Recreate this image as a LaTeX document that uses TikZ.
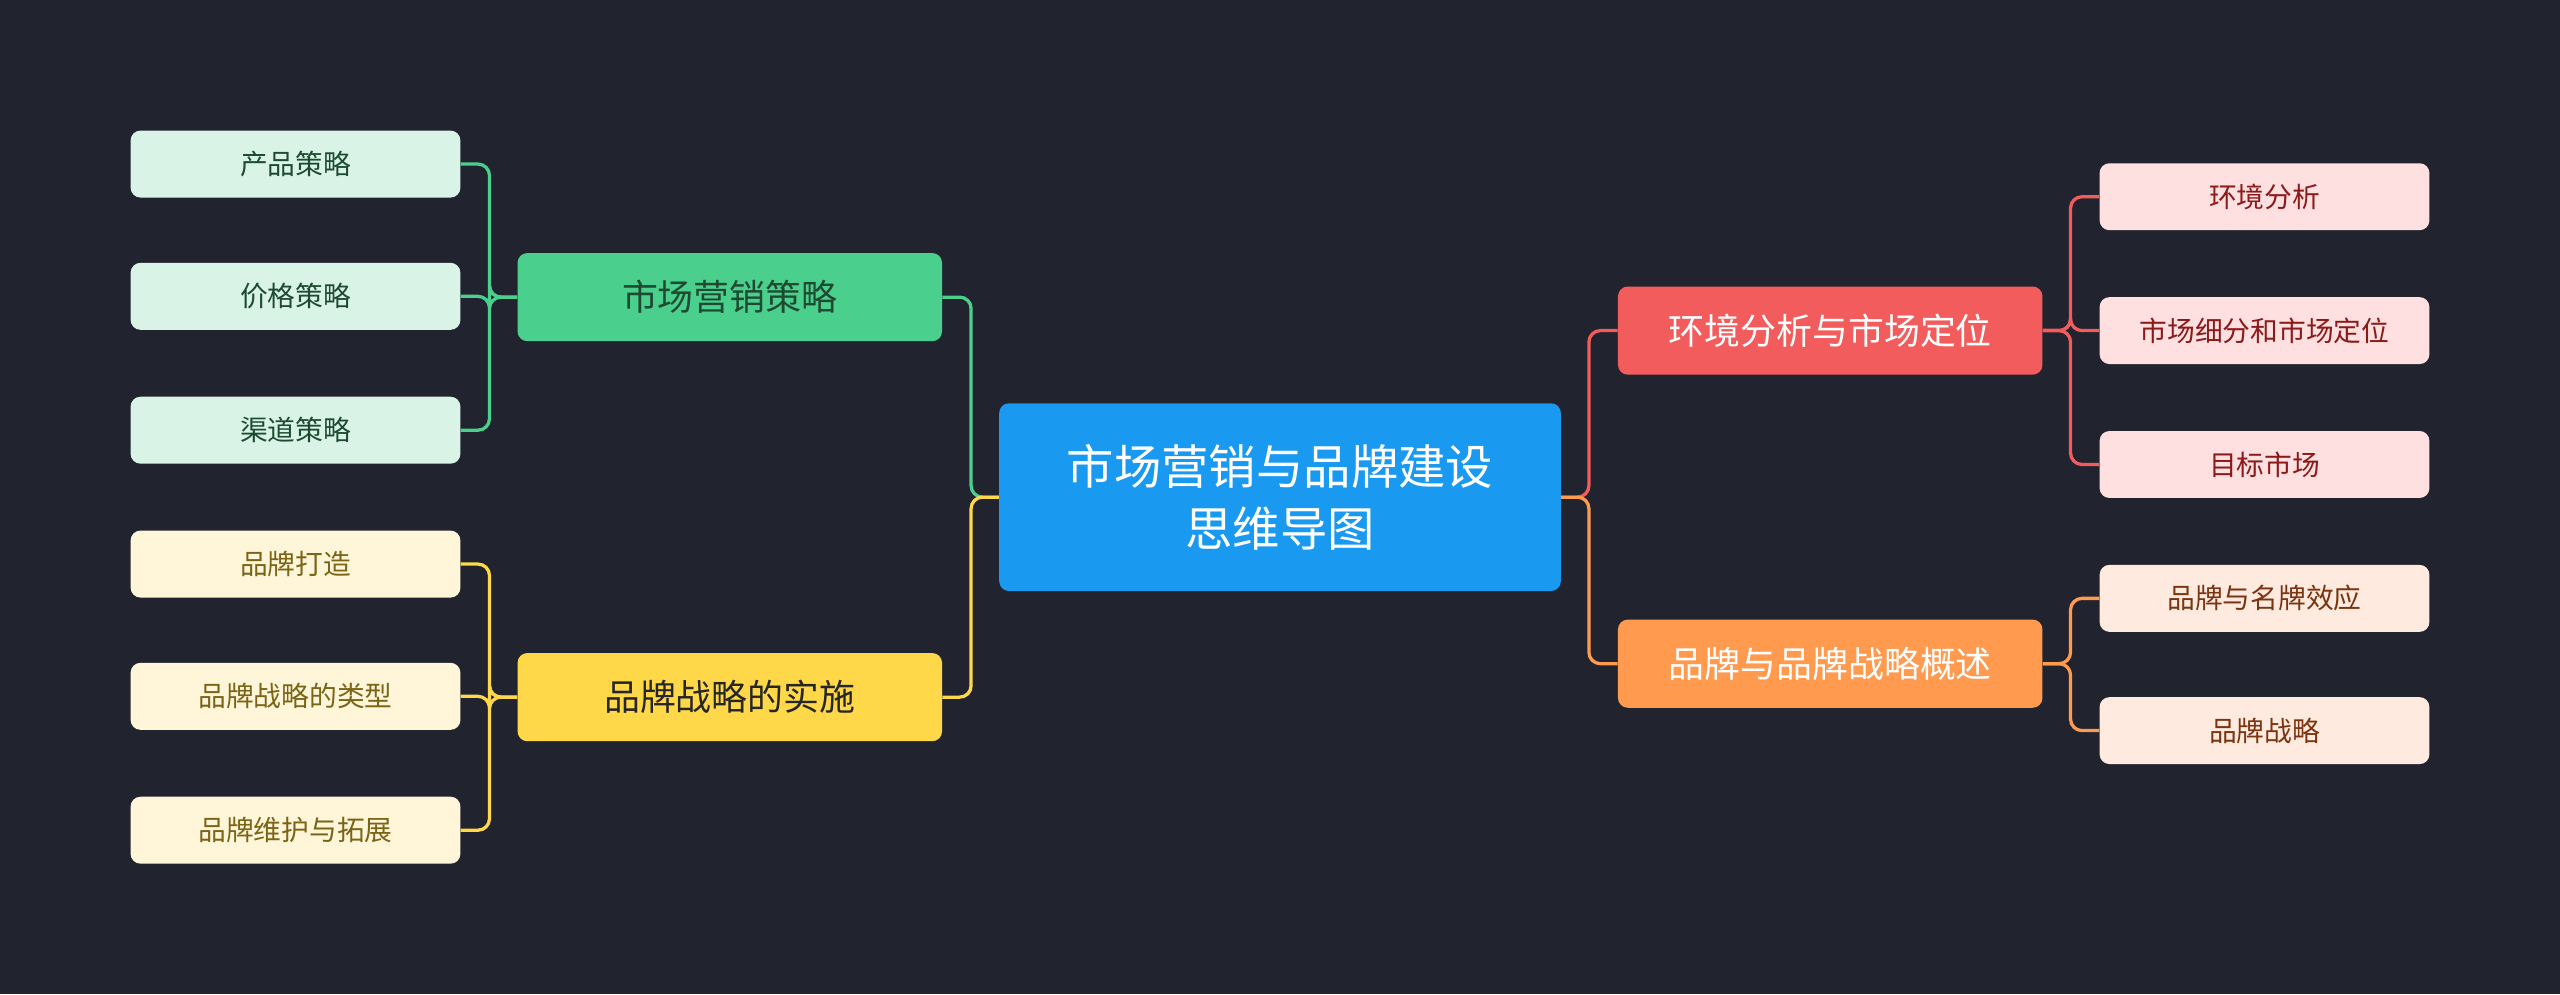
\documentclass[tikz,border=0pt]{standalone}
\usepackage{fontspec}
\setmainfont{Noto Sans CJK SC}
\usetikzlibrary{positioning}
\definecolor{bgc}{HTML}{21232F}
\definecolor{rootc}{HTML}{1A99F0}
\definecolor{grc}{HTML}{4ACF8C}
\definecolor{grl}{HTML}{D9F4E6}
\definecolor{grt}{HTML}{1E4A32}
\definecolor{yec}{HTML}{FFD84A}
\definecolor{yel}{HTML}{FFF6D9}
\definecolor{yet}{HTML}{7A6415}
\definecolor{rec}{HTML}{F25C5C}
\definecolor{rel}{HTML}{FFE0E0}
\definecolor{ret}{HTML}{8B1A1A}
\definecolor{orc}{HTML}{FF9A4F}
\definecolor{orl}{HTML}{FFEADF}
\definecolor{ort}{HTML}{7A3410}
\tikzset{
  rootbox/.style={rectangle, rounded corners=6pt, fill=rootc, text=white,
    minimum width=344pt, minimum height=115pt, align=center,
    font=\fontsize{29}{38}\selectfont},
  branchbox/.style={rectangle, rounded corners=6pt, minimum width=260pt,
    minimum height=54pt, font=\fontsize{22}{26}\selectfont},
  leafbox/.style={rectangle, rounded corners=6pt, minimum width=202pt,
    minimum height=41pt, font=\fontsize{17}{20}\selectfont},
  link/.style={line width=2pt, rounded corners=7pt}
}
\begin{document}
\begin{tikzpicture}[x=1pt,y=-1pt]
  \fill[bgc] (0,0) rectangle (1568,609);
  \useasboundingbox (0,0) rectangle (1568,609);
  % root
  \node[rootbox] (root) at (784,304.5) {市场营销与品牌建设\\思维导图};
  % branches
  \node[branchbox, fill=grc, text=grt] (mkt) at (447,182) {市场营销策略};
  \node[branchbox, fill=yec, text=black!85] (impl) at (447,427) {品牌战略的实施};
  \node[branchbox, fill=rec, text=white] (env) at (1121,202.5) {环境分析与市场定位};
  \node[branchbox, fill=orc, text=white] (brand) at (1121,406.5) {品牌与品牌战略概述};
  % leaves, left
  \node[leafbox, fill=grl, text=grt] (prod) at (181,100.5) {产品策略};
  \node[leafbox, fill=grl, text=grt] (price) at (181,181.5) {价格策略};
  \node[leafbox, fill=grl, text=grt] (chan) at (181,263.5) {渠道策略};
  \node[leafbox, fill=yel, text=yet] (make) at (181,345.5) {品牌打造};
  \node[leafbox, fill=yel, text=yet] (types) at (181,426.5) {品牌战略的类型};
  \node[leafbox, fill=yel, text=yet] (keep) at (181,508.5) {品牌维护与拓展};
  % leaves, right
  \node[leafbox, fill=rel, text=ret] (ana) at (1387,120.5) {环境分析};
  \node[leafbox, fill=rel, text=ret] (seg) at (1387,202.5) {市场细分和市场定位};
  \node[leafbox, fill=rel, text=ret] (tgt) at (1387,284.5) {目标市场};
  \node[leafbox, fill=orl, text=ort] (fame) at (1387,366.5) {品牌与名牌效应};
  \node[leafbox, fill=orl, text=ort] (strat) at (1387,447.5) {品牌战略};
  % connectors
  \draw[link, grc] (root.west) -- ++(-17,0) |- (mkt.east);
  \draw[link, yec] (root.west) -- ++(-17,0) |- (impl.east);
  \draw[link, rec] (root.east) -- ++(17,0) |- (env.west);
  \draw[link, orc] (root.east) -- ++(17,0) |- (brand.west);
  \foreach \l in {prod,price,chan}
    \draw[link, grc] (mkt.west) -- ++(-17,0) |- (\l.east);
  \foreach \l in {make,types,keep}
    \draw[link, yec] (impl.west) -- ++(-17,0) |- (\l.east);
  \foreach \l in {ana,seg,tgt}
    \draw[link, rec] (env.east) -- ++(17,0) |- (\l.west);
  \foreach \l in {fame,strat}
    \draw[link, orc] (brand.east) -- ++(17,0) |- (\l.west);
\end{tikzpicture}
\end{document}
